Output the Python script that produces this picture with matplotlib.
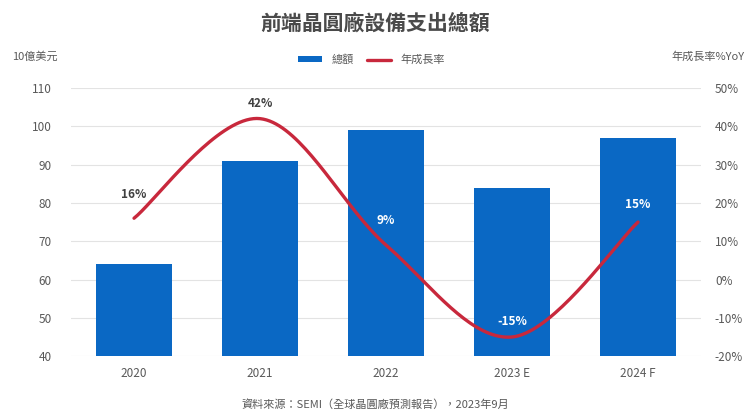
import numpy as np
import matplotlib
matplotlib.use("Agg")
import matplotlib.pyplot as plt
from matplotlib.ticker import FuncFormatter

plt.rcParams['font.family'] = ['Noto Sans CJK TC', 'DejaVu Sans']

# Data
years = ["2020", "2021", "2022", "2023 E", "2024 F"]
spending = [64, 91, 99, 84, 97]          # 10億美元
growth = [16, 42, 9, -15, 15]             # 年成長率 (%)

title = "前端晶圓廠設備支出總額"
bar_name = "總額"
line_name = "年成長率"
left_label = "10億美元"
right_label = "年成長率%YoY"
source = "資料來源：SEMI（全球晶圓廠預測報告），2023年9月"

BAR_COLOR = "#0A68C4"
LINE_COLOR = "#C8283C"
TEXT_COLOR = "#595959"
GRID_COLOR = "#E3E3E3"

# vertical offset (points) of each growth label above its point
label_offsets = [17, 11, 18, 11, 12.5]


def smooth_curve(xs, ys, steps=40):
    """Catmull-Rom style Bezier smoothing through every point."""
    xs = np.asarray(xs, float)
    ys = np.asarray(ys, float)
    n = len(xs)
    px = np.concatenate([[xs[0]], xs, [xs[-1]]])
    py = np.concatenate([[ys[0]], ys, [ys[-1]]])
    out_x, out_y = [], []
    t = np.linspace(0, 1, steps)
    for i in range(1, n):
        p0 = np.array([px[i - 1], py[i - 1]])
        p1 = np.array([px[i], py[i]])
        p2 = np.array([px[i + 1], py[i + 1]])
        p3 = np.array([px[i + 2], py[i + 2]])
        c1 = p1 + (p2 - p0) / 6.0
        c2 = p2 - (p3 - p1) / 6.0
        b = ((1 - t) ** 3)[:, None] * p1 + (3 * (1 - t) ** 2 * t)[:, None] * c1 \
            + (3 * (1 - t) * t ** 2)[:, None] * c2 + (t ** 3)[:, None] * p2
        out_x.extend(b[:, 0])
        out_y.extend(b[:, 1])
    return np.array(out_x), np.array(out_y)


fig = plt.figure(figsize=(7.5, 4.19), dpi=100)
ax = fig.add_axes([0.0947, 0.150, 0.840, 0.640])
ax2 = ax.twinx()

x = np.arange(len(years))
ax.bar(x, spending, width=0.61, color=BAR_COLOR, zorder=2, label=bar_name)
ax.set_ylim(40, 110)
ax.set_yticks(np.arange(40, 111, 10))
ax.set_xlim(-0.5, len(years) - 0.5)
ax.set_xticks(x)
ax.set_xticklabels(years)
ax.grid(axis='y', color=GRID_COLOR, linewidth=0.8, zorder=0)
ax.set_axisbelow(True)

sx, sy = smooth_curve(x, growth)
ax2.plot(sx, sy, color=LINE_COLOR, linewidth=2.4, solid_capstyle='round',
         zorder=3, label=line_name)
ax2.set_ylim(-20, 50)
ax2.set_yticks(np.arange(-20, 51, 10))
ax2.yaxis.set_major_formatter(FuncFormatter(lambda v, p: f"{v:.0f}%"))

# value labels on the growth line (white where they sit on a bar)
for xi, g, s, off in zip(x, growth, spending, label_offsets):
    label_left_units = (g + 20) + 40 + off * 0.2
    inside = label_left_units < s
    ax2.annotate(f"{g}%", (xi, g), xytext=(0, off), textcoords='offset points',
                 ha='center', va='center', fontsize=8.5, fontweight='bold',
                 color='white' if inside else '#404040', zorder=4)

for a in (ax, ax2):
    for sp in a.spines.values():
        sp.set_visible(False)
    a.tick_params(length=0, labelsize=8.5, colors=TEXT_COLOR)
ax.tick_params(axis='y', pad=14)
ax2.tick_params(axis='y', pad=10)
ax.tick_params(axis='x', pad=8)

fig.text(0.5, 0.945, title, ha='center', va='center', fontsize=15,
         color='#4A4A4A', fontweight='bold')
fig.text(0.016, 0.865, left_label, ha='left', va='center', fontsize=8,
         color=TEXT_COLOR)
fig.text(0.993, 0.865, right_label, ha='right', va='center', fontsize=8,
         color=TEXT_COLOR)
fig.text(0.5, 0.035, source, ha='center', va='center', fontsize=8,
         color=TEXT_COLOR)

h1, l1 = ax.get_legend_handles_labels()
h2, l2 = ax2.get_legend_handles_labels()
fig.legend(h1 + h2, l1 + l2, loc='center', bbox_to_anchor=(0.495, 0.857),
           ncol=2, frameon=False, fontsize=8, handlelength=2.2,
           handleheight=0.5, columnspacing=1.2, labelcolor=TEXT_COLOR)

fig.savefig("out.png", dpi=100)
